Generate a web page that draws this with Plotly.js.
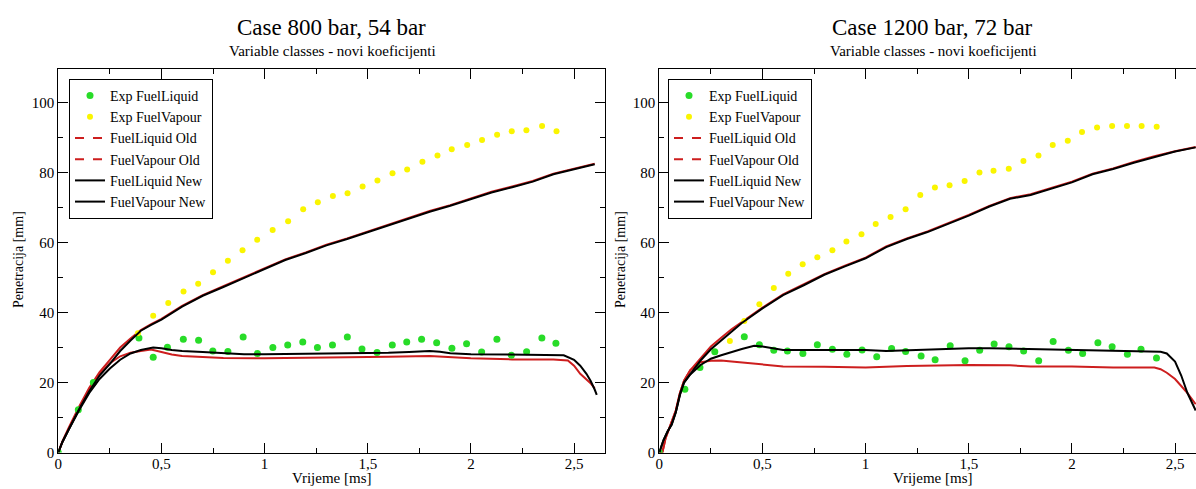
<!DOCTYPE html>
<html>
<head>
<meta charset="utf-8">
<script src="https://cdn.plot.ly/plotly-3.0.1.min.js"></script>
<style>
html,body{margin:0;padding:0;overflow:hidden;background:#fff;}
#chart{width:1212px;height:489px;}
</style>
</head>
<body>
<div id="chart"></div>
<script>
// ---------------- Case 800 bar, 54 bar ----------------
const expLiqT_A = [0, 0.097, 0.17, 0.391, 0.460, 0.529, 0.606, 0.680, 0.749, 0.822, 0.896, 0.965, 1.040, 1.112, 1.185, 1.256, 1.329, 1.401, 1.472, 1.545, 1.619, 1.689, 1.761, 1.834, 1.908, 1.979, 2.052, 2.126, 2.196, 2.270, 2.344, 2.412];
const expLiqV_A = [0, 12.2, 20.0, 32.7, 27.2, 30.1, 32.4, 32.1, 29.0, 28.9, 33.0, 28.3, 30.0, 30.7, 31.6, 30.0, 30.7, 33.0, 29.6, 28.6, 30.7, 31.6, 32.4, 31.4, 29.8, 31.1, 28.7, 32.4, 27.8, 28.8, 32.7, 31.2];
const expVapT_A = [0.386, 0.460, 0.533, 0.607, 0.678, 0.750, 0.822, 0.893, 0.964, 1.039, 1.114, 1.187, 1.258, 1.331, 1.402, 1.475, 1.547, 1.620, 1.691, 1.765, 1.838, 1.907, 1.982, 2.054, 2.127, 2.198, 2.269, 2.345, 2.415];
const expVapV_A = [34.1, 39.1, 42.7, 46.0, 48.2, 51.5, 54.8, 57.8, 60.8, 63.6, 66.1, 69.5, 71.5, 73.3, 74.1, 76.0, 77.7, 79.8, 80.9, 83.1, 84.9, 86.7, 87.9, 89.3, 90.8, 91.8, 92.1, 93.3, 91.8];

const vapNewT_A = [0, 0.02, 0.05, 0.1, 0.15, 0.2, 0.25, 0.3, 0.35, 0.4, 0.45, 0.5, 0.6, 0.7, 0.8, 0.9, 1.0, 1.1, 1.2, 1.3, 1.4, 1.5, 1.6, 1.7, 1.8, 1.9, 2.0, 2.1, 2.2, 2.3, 2.4, 2.5, 2.6];
const vapNewV_A = [0, 3, 6.5, 12.3, 17.5, 22, 25.3, 29, 32, 34.8, 36.5, 38, 41.7, 44.8, 47.3, 49.8, 52.5, 55, 57, 59.2, 61, 63, 65, 66.8, 68.8, 70.5, 72.5, 74.3, 75.8, 77.4, 79.5, 81, 82.4];
const vapOldT_A = [0, 0.02, 0.05, 0.1, 0.15, 0.2, 0.25, 0.3, 0.35, 0.4, 0.45, 0.5, 0.6, 0.7, 0.8, 0.9, 1.0, 1.1, 1.2, 1.3, 1.4, 1.5, 1.6, 1.7, 1.8, 1.9, 2.0, 2.1, 2.2, 2.3, 2.4, 2.5, 2.6];
const vapOldV_A = [0, 3.2, 7, 13, 18.5, 23, 26.5, 30, 32.6, 35, 36.7, 38.2, 41.9, 45, 47.5, 50, 52.6, 55.2, 57.2, 59.4, 61.2, 63.2, 65.2, 67, 69, 70.7, 72.6, 74.5, 76, 77.6, 79.7, 81.2, 82.5];

const liqNewT_A = [0, 0.02, 0.05, 0.1, 0.15, 0.2, 0.25, 0.3, 0.35, 0.4, 0.46, 0.5, 0.55, 0.6, 0.7, 0.8, 0.9, 1.0, 1.2, 1.4, 1.6, 1.7, 1.8, 1.85, 1.9, 2.0, 2.2, 2.4, 2.45, 2.5, 2.53, 2.56, 2.58, 2.6, 2.61];
const liqNewV_A = [0, 3, 6.5, 12, 17, 21, 24, 26.5, 28.3, 29.3, 30, 29.8, 29.3, 29, 28.7, 28.3, 28.1, 28.1, 28.2, 28.3, 28.5, 28.7, 29, 28.8, 28.4, 28.1, 28, 28, 27.8, 26.5, 24.8, 22.5, 20.5, 18, 16.5];
const liqOldT_A = [0, 0.02, 0.05, 0.1, 0.15, 0.2, 0.25, 0.3, 0.35, 0.4, 0.45, 0.5, 0.55, 0.6, 0.7, 0.8, 1.0, 1.2, 1.4, 1.6, 1.8, 1.9, 2.0, 2.2, 2.4, 2.47, 2.5, 2.53, 2.56, 2.58, 2.6];
const liqOldV_A = [0, 3, 6.8, 12.5, 18, 22.5, 25.5, 27.5, 28.5, 29, 29.4, 28.7, 28, 27.6, 27.2, 27, 26.9, 27, 27.2, 27.4, 27.6, 27.3, 26.9, 26.6, 26.6, 26.3, 24.8, 22.5, 21, 19.8, 18.3];

// ---------------- Case 1200 bar, 72 bar ----------------
const expLiqT_B = [0, 0.124, 0.197, 0.269, 0.412, 0.485, 0.555, 0.621, 0.696, 0.766, 0.839, 0.909, 0.983, 1.054, 1.126, 1.194, 1.269, 1.337, 1.410, 1.482, 1.553, 1.623, 1.695, 1.766, 1.839, 1.909, 1.983, 2.052, 2.126, 2.195, 2.269, 2.335, 2.410];
const expLiqV_B = [0, 18.1, 24.3, 28.8, 33.1, 30.8, 29.2, 29.0, 28.3, 30.8, 29.5, 28.1, 29.3, 27.4, 29.7, 28.9, 27.6, 26.5, 30.5, 26.2, 29.2, 31.0, 30.2, 29.0, 26.2, 31.7, 29.2, 28.3, 31.4, 30.2, 28.1, 29.5, 27.0];
const expVapT_B = [0.342, 0.412, 0.485, 0.555, 0.625, 0.695, 0.766, 0.839, 0.907, 0.980, 1.049, 1.121, 1.194, 1.265, 1.336, 1.407, 1.480, 1.552, 1.620, 1.694, 1.765, 1.838, 1.907, 1.980, 2.049, 2.122, 2.195, 2.267, 2.338, 2.411];
const expVapV_B = [31.9, 37.6, 42.4, 47.0, 51.1, 53.8, 55.8, 57.8, 60.3, 62.4, 65.3, 67.3, 69.5, 73.6, 75.7, 76.4, 77.6, 80.0, 80.5, 81.1, 83.3, 84.9, 87.9, 89.1, 91.6, 92.9, 93.3, 93.3, 93.3, 93.1];

const vapNewT_B = [0, 0.02, 0.04, 0.06, 0.08, 0.1, 0.12, 0.15, 0.2, 0.25, 0.3, 0.35, 0.4, 0.5, 0.6, 0.7, 0.8, 0.9, 1.0, 1.1, 1.2, 1.3, 1.4, 1.5, 1.6, 1.7, 1.8, 1.9, 2.0, 2.1, 2.2, 2.3, 2.4, 2.5, 2.6];
const vapNewV_B = [0, 3.5, 6, 8, 11.5, 16.5, 20, 22.5, 26.3, 29.5, 32, 34.7, 37, 41.2, 45, 47.8, 50.8, 53.2, 55.5, 58.7, 61, 63, 65.3, 67.7, 70.3, 72.5, 73.6, 75.3, 77.2, 79.5, 81, 82.8, 84.5, 86, 87.2];
const vapOldT_B = [0, 0.015, 0.03, 0.05, 0.08, 0.1, 0.12, 0.15, 0.2, 0.25, 0.3, 0.35, 0.4, 0.5, 0.6, 0.7, 0.8, 0.9, 1.0, 1.1, 1.2, 1.3, 1.4, 1.5, 1.6, 1.7, 1.8, 1.9, 2.0, 2.1, 2.2, 2.3, 2.4, 2.5, 2.6];
const vapOldV_B = [0, 0, 4, 7, 12, 17, 20.5, 23.5, 27, 30.3, 32.8, 35.2, 37.3, 41.4, 45.2, 48, 51, 53.4, 55.7, 58.9, 61.2, 63.2, 65.5, 67.9, 70.5, 72.7, 73.8, 75.5, 77.4, 79.7, 81.2, 83, 84.7, 86.1, 87.3];

const liqNewT_B = [0, 0.02, 0.04, 0.06, 0.08, 0.1, 0.12, 0.15, 0.2, 0.25, 0.3, 0.35, 0.4, 0.46, 0.5, 0.6, 0.7, 0.8, 0.9, 1.0, 1.1, 1.2, 1.3, 1.4, 1.5, 1.6, 1.8, 2.0, 2.2, 2.3, 2.4, 2.43, 2.46, 2.5, 2.53, 2.56, 2.6];
const liqNewV_B = [0, 3.5, 6, 8, 11.5, 16.5, 20, 22.3, 25, 26.8, 27.8, 28.8, 29.6, 30.5, 30.3, 29.3, 29.3, 29.5, 29.5, 29.3, 29, 29.2, 29.5, 29.7, 29.8, 29.8, 29.6, 29.3, 29.1, 29, 29, 28.8, 28.3, 26, 22, 17, 12];
const liqOldT_B = [0, 0.015, 0.03, 0.05, 0.08, 0.1, 0.12, 0.15, 0.2, 0.25, 0.3, 0.35, 0.4, 0.5, 0.6, 0.8, 1.0, 1.2, 1.4, 1.5, 1.7, 1.8, 2.0, 2.2, 2.4, 2.43, 2.46, 2.5, 2.53, 2.56, 2.6];
const liqOldV_B = [0, 0, 4, 7, 12, 17, 20.5, 23.5, 25.8, 26.2, 26.3, 26, 25.7, 25, 24.6, 24.5, 24.3, 24.7, 24.9, 25, 24.9, 24.6, 24.6, 24.3, 24.3, 23.8, 22.8, 21, 19, 17, 13.8];

const xTickVals = [0, 0.5, 1, 1.5, 2, 2.5];
const xTickText = ['0', '0,5', '1', '1,5', '2', '2,5'];
const yTickVals = [0, 20, 40, 60, 80, 100];

// ---------------- styling ----------------
const W = 1212, H = 489;
const FONT = 'Liberation Serif';
const GREEN = 'rgb(40,220,40)';
const YELLOW = 'rgb(250,245,0)';
const RED = 'rgb(205,30,30)';
const BLACK = 'rgb(0,0,0)';

function panelTraces(sfx, legendId, d) {
  const xa = 'x' + sfx, ya = 'y' + sfx;
  return [
    {x: d.loT, y: d.loV, xaxis: xa, yaxis: ya, mode: 'lines', line: {color: RED, width: 2}, showlegend: false, hoverinfo: 'skip'},
    {x: d.voT, y: d.voV, xaxis: xa, yaxis: ya, mode: 'lines', line: {color: RED, width: 2}, showlegend: false, hoverinfo: 'skip'},
    {x: d.elT, y: d.elV, xaxis: xa, yaxis: ya, mode: 'markers', name: 'Exp FuelLiquid', legend: legendId, marker: {color: GREEN, size: 7}},
    {x: d.evT, y: d.evV, xaxis: xa, yaxis: ya, mode: 'markers', name: 'Exp FuelVapour', legend: legendId, marker: {color: YELLOW, size: 6}},
    {x: [null], y: [null], xaxis: xa, yaxis: ya, mode: 'lines', name: 'FuelLiquid Old', legend: legendId, line: {color: RED, width: 2, dash: 'dash'}},
    {x: [null], y: [null], xaxis: xa, yaxis: ya, mode: 'lines', name: 'FuelVapour Old', legend: legendId, line: {color: RED, width: 2, dash: 'dash'}},
    {x: d.lnT, y: d.lnV, xaxis: xa, yaxis: ya, mode: 'lines', name: 'FuelLiquid New', legend: legendId, line: {color: BLACK, width: 2}},
    {x: d.vnT, y: d.vnV, xaxis: xa, yaxis: ya, mode: 'lines', name: 'FuelVapour New', legend: legendId, line: {color: BLACK, width: 2}}
  ];
}

const traces = [].concat(
  panelTraces('', 'legend', {loT: liqOldT_A, loV: liqOldV_A, voT: vapOldT_A, voV: vapOldV_A, elT: expLiqT_A, elV: expLiqV_A, evT: expVapT_A, evV: expVapV_A, lnT: liqNewT_A, lnV: liqNewV_A, vnT: vapNewT_A, vnV: vapNewV_A}),
  panelTraces('2', 'legend2', {loT: liqOldT_B, loV: liqOldV_B, voT: vapOldT_B, voV: vapOldV_B, elT: expLiqT_B, elV: expLiqV_B, evT: expVapT_B, evV: expVapV_B, lnT: liqNewT_B, lnV: liqNewV_B, vnT: vapNewT_B, vnV: vapNewV_B})
);

function xAxis(x0, x1, anchor) {
  return {
    domain: [x0 / W, x1 / W], anchor: anchor, range: [0, 2.65],
    tickvals: xTickVals, ticktext: xTickText,
    ticks: 'inside', ticklen: 10, tickwidth: 1, tickcolor: BLACK,
    minor: {dtick: 0.25, tick0: 0, ticks: 'inside', ticklen: 5, tickcolor: BLACK, showgrid: false},
    showline: true, linecolor: BLACK, linewidth: 1, mirror: 'ticks',
    showgrid: false, zeroline: false, ticklabelstandoff: -3,
    tickfont: {family: FONT, size: 15, color: BLACK}
  };
}
function yAxis(anchor) {
  return {
    domain: [(H - 452.5) / H, (H - 69) / H], anchor: anchor, range: [0, 109.6],
    tickvals: yTickVals,
    ticks: 'inside', ticklen: 10, tickwidth: 1, tickcolor: BLACK,
    minor: {dtick: 10, tick0: 0, ticks: 'inside', ticklen: 5, tickcolor: BLACK, showgrid: false},
    showline: true, linecolor: BLACK, linewidth: 1, mirror: 'ticks',
    showgrid: false, zeroline: false,
    tickfont: {family: FONT, size: 15, color: BLACK}
  };
}

function legendBox(xpx) {
  return {
    x: xpx / W, y: 1 - 79 / H, xanchor: 'left', yanchor: 'top',
    bgcolor: 'rgba(255,255,255,1)', bordercolor: BLACK, borderwidth: 1,
    font: {family: FONT, size: 14, color: BLACK},
    tracegroupgap: 0, itemwidth: 30
  };
}

function ann(text, xpx, ypx, size, angle) {
  return {text: text, x: xpx / W, y: 1 - ypx / H, xref: 'paper', yref: 'paper',
          xanchor: 'center', yanchor: 'middle', showarrow: false, textangle: angle || 0,
          font: {family: FONT, size: size, color: BLACK}};
}

const layout = {
  width: W, height: H,
  margin: {l: 0, r: 0, t: 0, b: 0},
  paper_bgcolor: '#fff', plot_bgcolor: '#fff',
  separators: ',.',
  showlegend: true,
  xaxis: xAxis(58.3, 605, 'y'),
  yaxis: yAxis('x'),
  xaxis2: xAxis(659.3, 1206, 'y2'),
  yaxis2: yAxis('x2'),
  legend: legendBox(69),
  legend2: legendBox(668),
  annotations: [
    ann('Case 800 bar, 54 bar', 331, 27, 23),
    ann('Variable classes - novi koeficijenti', 332, 51, 15),
    ann('Case 1200 bar, 72 bar', 932, 27, 23),
    ann('Variable classes - novi koeficijenti', 933, 51, 15),
    ann('Vrijeme [ms]', 332, 478, 15),
    ann('Vrijeme [ms]', 933, 478, 15),
    ann('Penetracija [mm]', 18, 260, 14, -90),
    ann('Penetracija [mm]', 620, 260, 14, -90)
  ]
};

Plotly.newPlot('chart', traces, layout, {displayModeBar: false, staticPlot: true});
</script>
</body>
</html>
